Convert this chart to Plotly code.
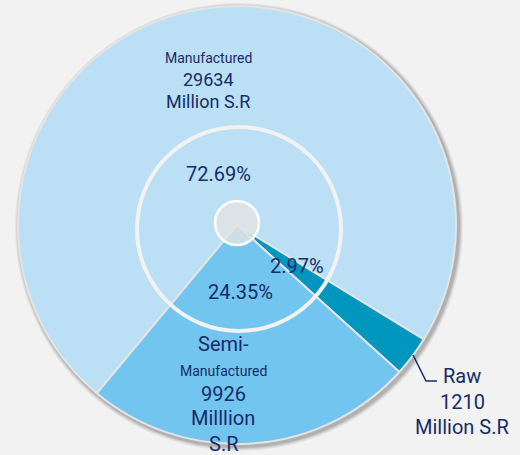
import plotly.graph_objects as go

# data
categories = ["Manufactured", "Raw", "Semi-Manufactured"]
values = [29634, 1210, 9926]
pct_labels = ["72.69%", "2.97%", "24.35%"]
colors = ["#bbdff5", "#0096be", "#72c5ee"]

W, H = 520, 455
cx, cy, r = 237, 225, 219
navy = "#172b69"
font_family = "Roboto, 'Open Sans', sans-serif"

fig = go.Figure()

fig.add_trace(go.Pie(
    labels=categories, values=values,
    marker=dict(colors=colors, line=dict(color="#e4e4e4", width=2)),
    sort=False, direction="clockwise", rotation=219.8,
    textinfo="none", hoverinfo="label+value+percent",
    showlegend=False,
    domain=dict(x=[(cx - r) / W, (cx + r) / W],
                y=[(H - cy - r) / H, (H - cy + r) / H]),
))

shapes = []
# soft shadow around the pie
for i, a in enumerate([0.05, 0.06, 0.08, 0.1]):
    d = 5 - i
    shapes.append(dict(type="circle", xref="x", yref="y", layer="below",
                       x0=cx - r - d + 2, x1=cx + r + d + 2,
                       y0=cy - r - d + 2, y1=cy + r + d + 2,
                       fillcolor=f"rgba(0,0,0,{a})", line=dict(width=0)))
# inner white ring
shapes.append(dict(type="circle", xref="x", yref="y", layer="above",
                   x0=137, x1=341, y0=127, y1=331,
                   line=dict(color="#f2f2f2", width=4)))
# small centre disc
shapes.append(dict(type="circle", xref="x", yref="y", layer="above",
                   x0=cx - 22, x1=cx + 22, y0=223 - 22, y1=223 + 22,
                   fillcolor="rgba(228,228,228,0.8)",
                   line=dict(color="white", width=2.5)))
# leader line for Raw
shapes.append(dict(type="path", xref="x", yref="y", layer="above",
                   path="M 413 355 L 426 381 L 437 381",
                   line=dict(color=navy, width=1.5)))

ann = []
def txt(x, y, s, size):
    ann.append(dict(x=x, y=y, xref="x", yref="y", text=s, showarrow=False,
                    font=dict(family=font_family, size=size, color=navy),
                    xanchor="center", yanchor="middle"))

txt(208, 58, "Manufactured", 14)
txt(208, 79, "29634", 18)
txt(208, 101, "Million S.R", 18)
txt(218, 174, pct_labels[0], 20)
txt(297, 266, pct_labels[1], 20)
txt(240, 292, pct_labels[2], 20)
txt(223, 344, "Semi-", 20)
txt(223, 371, "Manufactured", 14)
txt(223, 394, "9926", 20)
txt(223, 418, "Milllion", 20)
txt(223, 444, "S.R", 20)
txt(462, 376, "Raw", 20)
txt(462, 402, "1210", 20)
txt(462, 427, "Million S.R", 20)

fig.update_layout(
    width=W, height=H,
    margin=dict(l=0, r=0, t=0, b=0),
    paper_bgcolor="#f2f2f2", plot_bgcolor="rgba(0,0,0,0)",
    xaxis=dict(range=[0, W], visible=False, fixedrange=True),
    yaxis=dict(range=[H, 0], visible=False, fixedrange=True),
    shapes=shapes, annotations=ann,
)

# page body has an 8px default margin; drop it so the chart fills the window
fig.write_html("out.html", config={"displayModeBar": False},
               post_script="document.body.style.margin='0';")
